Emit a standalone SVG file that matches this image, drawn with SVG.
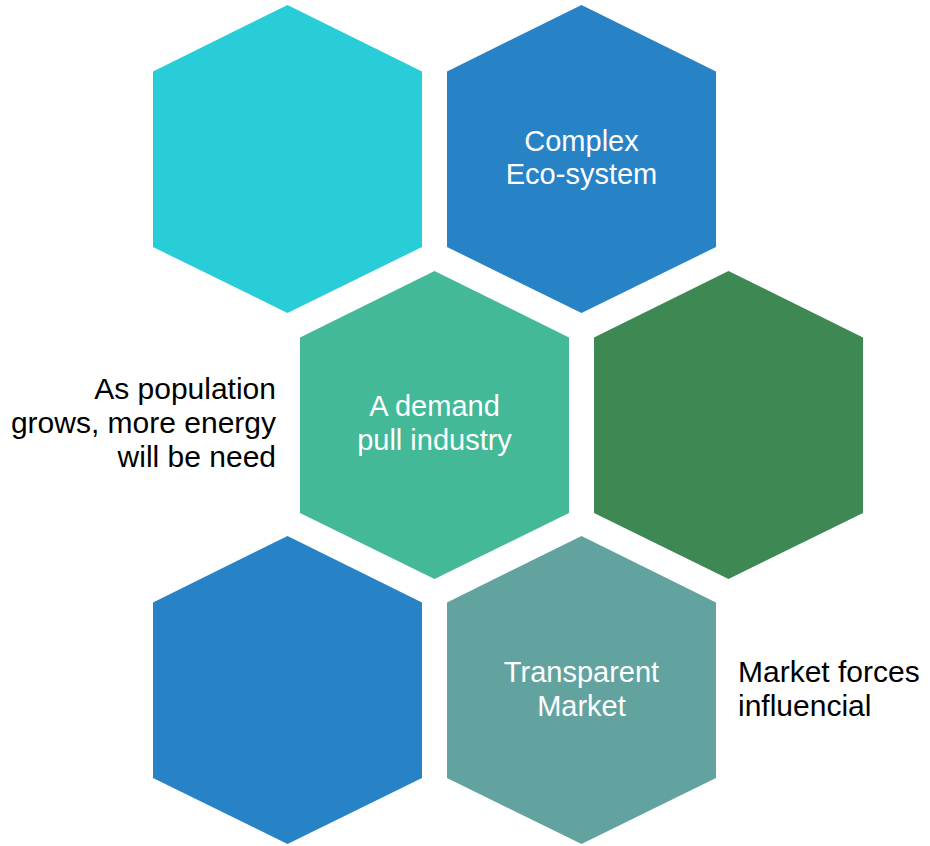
<svg xmlns="http://www.w3.org/2000/svg" width="930" height="846" viewBox="0 0 930 846">
<style>
  .lbl { font-family: "Liberation Sans", Arial, sans-serif; font-size: 29px; fill: #ffffff; text-anchor: middle; }
  .side { font-family: "Liberation Sans", Arial, sans-serif; font-size: 30px; fill: #000000; }
</style>
<rect x="0" y="0" width="930" height="846" fill="#ffffff"/>
<g id="hex-top-left">
  <polygon points="287.5,5 422,71.5 422,247 287.5,313 153,247 153,71.5" fill="#29CDD7"/>
</g>
<g id="hex-complex">
  <polygon points="581.5,5 716,71.5 716,247 581.5,313 447,247 447,71.5" fill="#2782C6"/>
  <text class="lbl" x="581.5" y="150.5">Complex</text>
  <text class="lbl" x="581.5" y="184">Eco-system</text>
</g>
<g id="hex-demand">
  <polygon points="434.5,271 569,337.5 569,513 434.5,579 300,513 300,337.5" fill="#43B997"/>
  <text class="lbl" x="434.5" y="416">A demand</text>
  <text class="lbl" x="434.5" y="450">pull industry</text>
</g>
<g id="hex-green">
  <polygon points="728.5,271 863,337.5 863,513 728.5,579 594,513 594,337.5" fill="#3E8854"/>
</g>
<g id="hex-bottom-left">
  <polygon points="287.5,536 422,602.5 422,778 287.5,844 153,778 153,602.5" fill="#2782C6"/>
</g>
<g id="hex-transparent">
  <polygon points="581.5,536 716,602.5 716,778 581.5,844 447,778 447,602.5" fill="#63A39F"/>
  <text class="lbl" x="581.5" y="682">Transparent</text>
  <text class="lbl" x="581.5" y="716">Market</text>
</g>
<g id="note-population">
  <text class="side" text-anchor="end" x="276" y="399">As population</text>
  <text class="side" text-anchor="end" x="276" y="433">grows, more energy</text>
  <text class="side" text-anchor="end" x="276" y="467">will be need</text>
</g>
<g id="note-market">
  <text class="side" x="738" y="682">Market forces</text>
  <text class="side" x="738" y="716">influencial</text>
</g>
</svg>
